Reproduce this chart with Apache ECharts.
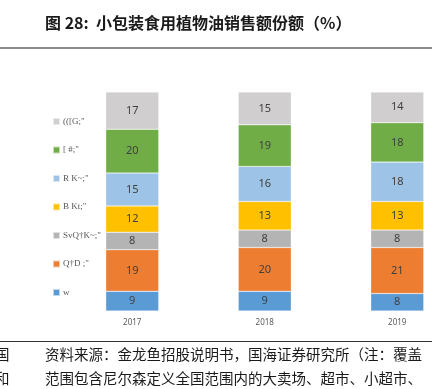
<!DOCTYPE html>
<html><head><meta charset="utf-8">
<script src="https://cdn.jsdelivr.net/npm/echarts@6/dist/echarts.min.js"></script>
<style>html,body{margin:0;padding:0;background:#fff}#c{width:440px;height:389px}</style>
</head><body><div id="c"></div>
<script>
var categories = ['2017', '2018', '2019'];
var seriesNames = ['w', 'Q\u2020D ;"', 'SvQ\u2020K~;"', 'B Kt;"', 'R K~;"', '[ #;"', '(([G;"'];
var s1 = [9, 9, 8];
var s2 = [19, 20, 21];
var s3 = [8, 8, 8];
var s4 = [12, 13, 13];
var s5 = [15, 16, 18];
var s6 = [20, 19, 18];
var s7 = [17, 15, 14];
var values = [s1, s2, s3, s4, s5, s6, s7];
var colors = ['#5B9BD5', '#ED7D31', '#B4B4B4', '#FFC000', '#9DC3E6', '#70AD47', '#D0CECE'];

var chart = echarts.init(document.getElementById('c'), null, {renderer: 'canvas'});
var series = seriesNames.map(function (n, i) {
  return {
    name: n, type: 'bar', stack: 'a', barWidth: 53,
    data: values[i],
    itemStyle: {color: colors[i], borderColor: 'rgba(255,255,255,0.6)', borderWidth: 0.5},
    label: {show: true, position: 'inside', fontSize: 11, color: '#404040', fontFamily: 'Noto Sans'}
  };
});
chart.setOption({
  animation: false,
  grid: {left: 66, right: -23.5, top: 92, bottom: 78, outerBoundsMode: 'none', containLabel: false},
  xAxis: {type: 'category', data: categories, axisLine: {show: false}, axisTick: {show: false},
    axisLabel: {fontSize: 8, color: '#595959', margin: 8, fontFamily: 'Noto Sans'}},
  yAxis: {type: 'value', min: 0, max: 100, show: false, splitLine: {show: false}},
  legend: {orient: 'vertical', left: 47, top: 112, itemWidth: 7, itemHeight: 7, itemGap: 19.5,
    icon: 'rect', data: seriesNames.slice().reverse(),
    textStyle: {fontSize: 9, color: '#595959', fontFamily: 'Liberation Serif', padding: [0, 0, 0, -2]}},
  series: series,
  graphic: [
    {type: 'text', left: 45, top: 15, style: {text: '图 28:  小包装食用植物油销售额份额（%）', font: 'bold 16px "Noto Sans CJK SC"', fill: '#1a1a1a'}},
    {type: 'rect', shape: {x: 0, y: 47, width: 432, height: 2}, style: {fill: '#8c8c8c'}},
    {type: 'rect', shape: {x: 0, y: 341, width: 432, height: 1}, style: {fill: '#333'}},
    {type: 'text', left: 45, top: 347, style: {text: '资料来源：金龙鱼招股说明书，国海证券研究所（注：覆盖', font: '14.5px "Noto Sans CJK SC"', fill: '#1a1a1a'}},
    {type: 'text', left: 45, top: 371, style: {text: '范围包含尼尔森定义全国范围内的大卖场、超市、小超市、', font: '14.5px "Noto Sans CJK SC"', fill: '#1a1a1a'}},
    {type: 'text', x: -5, y: 347, style: {text: '国', font: '14.5px "Noto Sans CJK SC"', fill: '#1a1a1a'}},
    {type: 'text', x: -5, y: 371, style: {text: '和', font: '14.5px "Noto Sans CJK SC"', fill: '#1a1a1a'}}
  ]
});
</script></body></html>
